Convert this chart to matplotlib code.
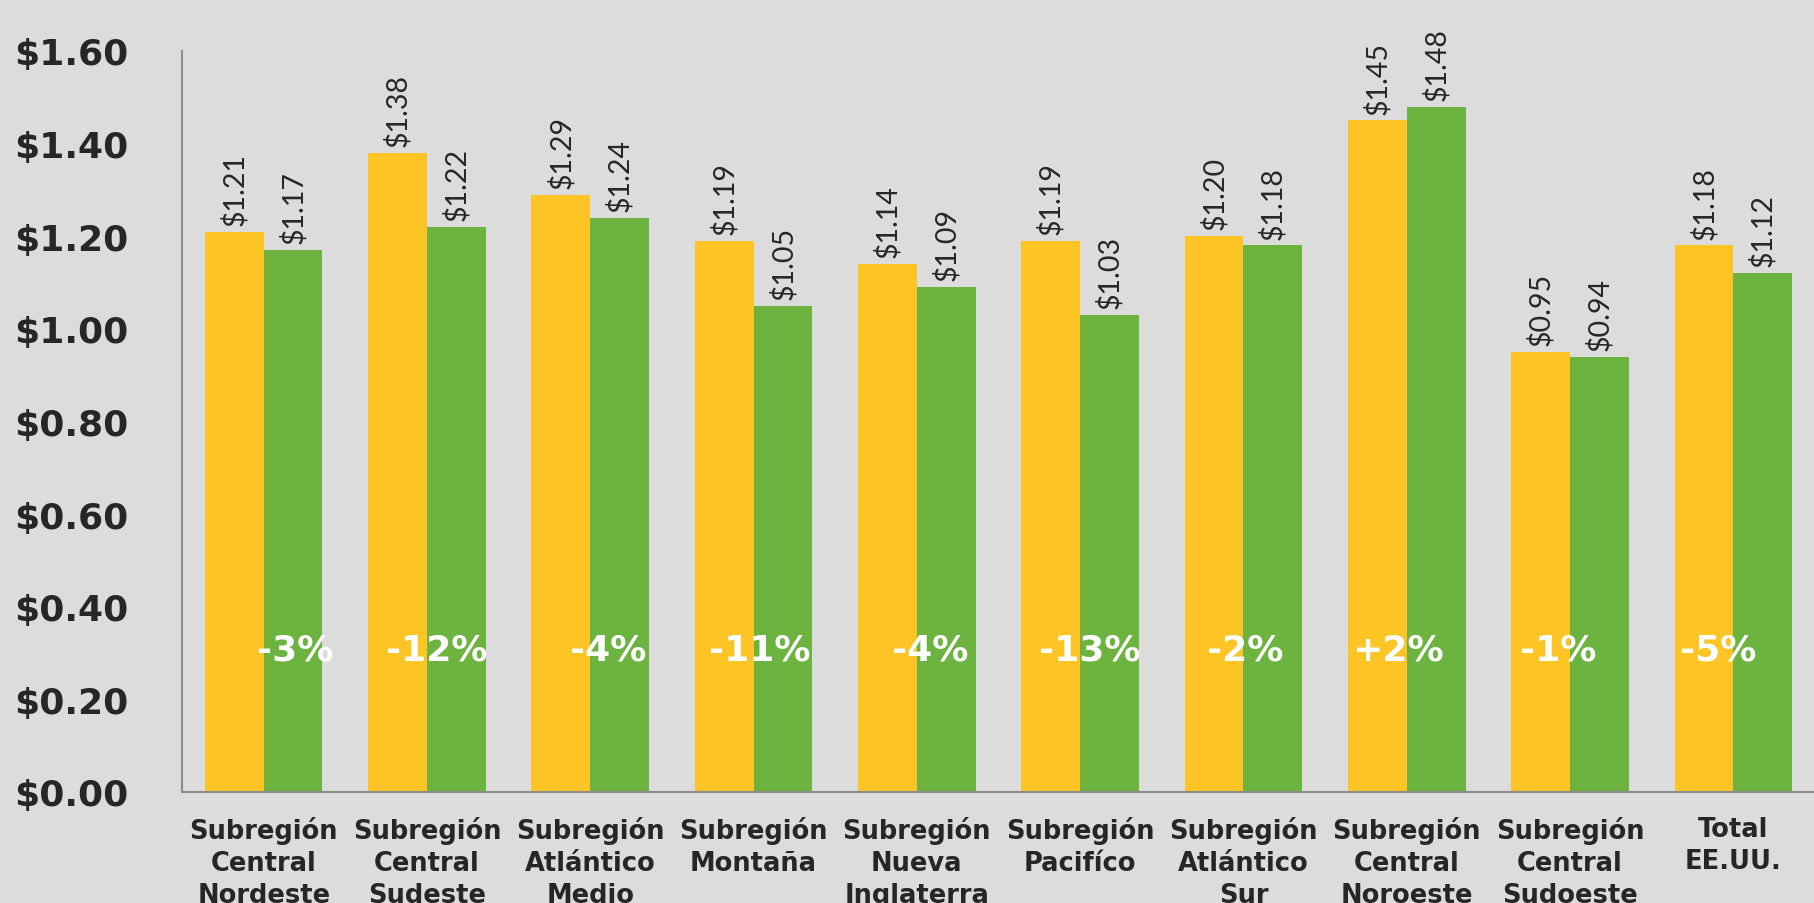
import matplotlib
matplotlib.use("Agg")
import matplotlib.pyplot as plt
import numpy as np

# data
regions = ["Subregión\nCentral\nNordeste", "Subregión\nCentral\nSudeste", "Subregión\nAtlántico\nMedio",
           "Subregión\nMontaña", "Subregión\nNueva\nInglaterra", "Subregión\nPacifíco",
           "Subregión\nAtlántico\nSur", "Subregión\nCentral\nNoroeste", "Subregión\nCentral\nSudoeste",
           "Total\nEE.UU."]
price_prev = [1.21, 1.38, 1.29, 1.19, 1.14, 1.19, 1.20, 1.45, 0.95, 1.18]
price_curr = [1.17, 1.22, 1.24, 1.05, 1.09, 1.03, 1.18, 1.48, 0.94, 1.12]
pct_change = ["-3%", "-12%", "-4%", "-11%", "-4%", "-13%", "-2%", "+2%", "-1%", "-5%"]
yticks = [0.0, 0.2, 0.4, 0.6, 0.8, 1.0, 1.2, 1.4, 1.6]

# horizontal nudges of the percent labels (they are not exactly centred in the original)
pct_nudge = [0.19, 0.06, 0.11, 0.04, 0.08, 0.06, 0.01, -0.055, -0.07, -0.09]

BG = "#dcdcdc"
YELLOW = "#fdc426"
GREEN = "#6db33f"
TEXT = "#262626"

fig = plt.figure(figsize=(18.15, 9.04), dpi=100, facecolor=BG)
ax = fig.add_axes([0.1003, 0.1228, 0.8997, 0.8197], facecolor=BG)

x = np.arange(len(regions))
w = 0.36
b1 = ax.bar(x - w / 2, price_prev, w, color=YELLOW)
b2 = ax.bar(x + w / 2, price_curr, w, color=GREEN)

# rotated value labels above each bar
for bars, vals in ((b1, price_prev), (b2, price_curr)):
    for rect, v in zip(bars, vals):
        ax.text(rect.get_x() + rect.get_width() / 2, v + 0.015, f"${v:.2f}",
                rotation=90, ha="center", va="bottom", fontsize=20.5,
                family=["Liberation Sans Narrow", "Lato"], color=TEXT)

# percent change labels inside the bars
for xi, p, dx in zip(x, pct_change, pct_nudge):
    ax.text(xi + dx, 0.308, p, ha="center", va="center", fontsize=26,
            fontweight="bold", color="white")

ax.set_xlim(-0.5, len(regions) - 0.5)
ax.set_ylim(0, 1.6)
ax.set_yticks(yticks)
ax.set_yticklabels([f"${v:.2f}" for v in yticks], fontsize=26, fontweight="bold", color=TEXT)
ax.set_xticks(x)
ax.set_xticklabels(regions, fontsize=18.5, fontweight="bold", color=TEXT, linespacing=1.3, va="top")
ax.tick_params(axis="y", length=0, pad=39)
ax.tick_params(axis="x", length=0, pad=17)

for s in ("top", "right"):
    ax.spines[s].set_visible(False)
ax.spines["left"].set_color("#8c8c8c")
ax.spines["bottom"].set_color("#8c8c8c")
ax.spines["left"].set_linewidth(1.5)
ax.spines["bottom"].set_linewidth(1.5)

fig.savefig("out.png", dpi=100, facecolor=BG)
